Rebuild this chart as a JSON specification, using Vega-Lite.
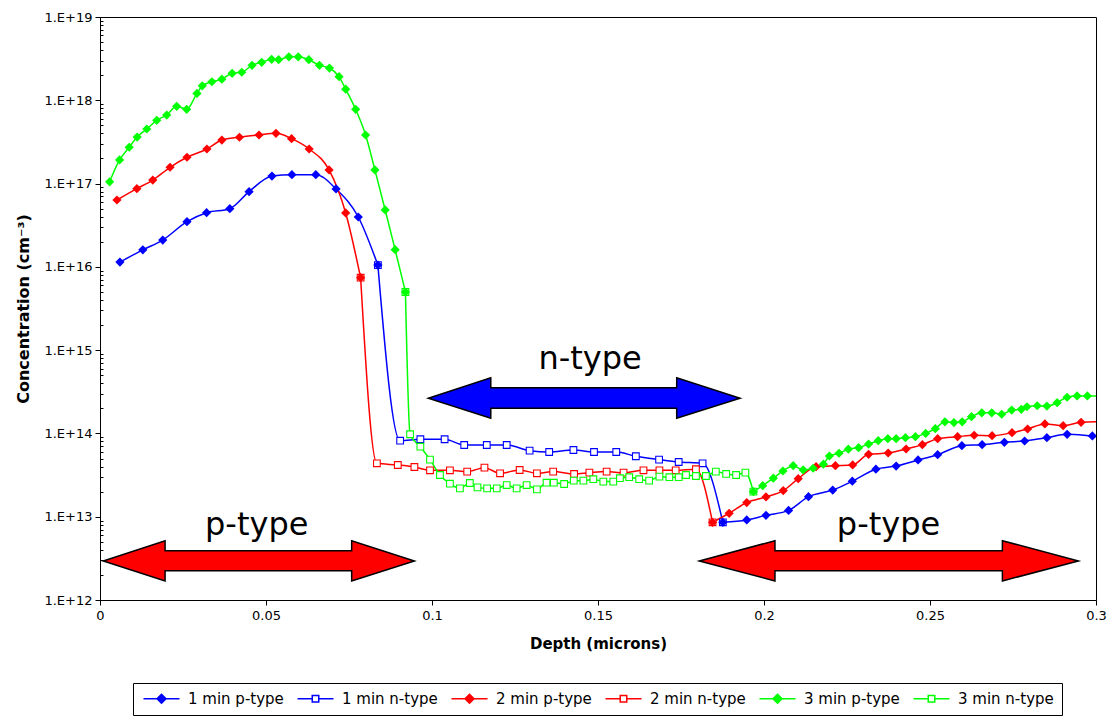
{
  "$schema": "https://vega.github.io/schema/vega-lite/v6.json",
  "autosize": {"type": "none"},
  "padding": {"left": 100, "top": 17, "right": 15, "bottom": 117},
  "width": 996,
  "height": 583,
  "background": "white",
  "config": {
    "view": {"stroke": "black", "strokeWidth": 1},
    "font": "DejaVu Sans",
    "axis": {"domainColor": "black", "tickColor": "black", "labelColor": "black", "titleColor": "black", "grid": false, "labelFont": "DejaVu Sans", "titleFont": "DejaVu Sans"},
    "legend": {"labelFont": "DejaVu Sans", "labelColor": "black"}
  },
  "datasets": {
    "curves": [
      {"series": "1 min p-type", "seg": "a", "x": 0.0060, "y": 1.14e16},
      {"series": "1 min p-type", "seg": "a", "x": 0.0129, "y": 1.6e16},
      {"series": "1 min p-type", "seg": "a", "x": 0.0189, "y": 2.1e16},
      {"series": "1 min p-type", "seg": "a", "x": 0.0262, "y": 3.49e16},
      {"series": "1 min p-type", "seg": "a", "x": 0.0321, "y": 4.47e16},
      {"series": "1 min p-type", "seg": "a", "x": 0.0391, "y": 4.99e16},
      {"series": "1 min p-type", "seg": "a", "x": 0.0449, "y": 8.0e16},
      {"series": "1 min p-type", "seg": "a", "x": 0.0518, "y": 1.23e17},
      {"series": "1 min p-type", "seg": "a", "x": 0.0578, "y": 1.28e17},
      {"series": "1 min p-type", "seg": "a", "x": 0.0650, "y": 1.28e17},
      {"series": "1 min p-type", "seg": "a", "x": 0.0711, "y": 8.61e16},
      {"series": "1 min p-type", "seg": "a", "x": 0.0778, "y": 3.97e16},
      {"series": "1 min p-type", "seg": "a", "x": 0.0837, "y": 1.05e16},
      {"series": "1 min n-type", "seg": "a", "x": 0.0837, "y": 1.05e16},
      {"series": "1 min n-type", "seg": "a", "x": 0.0904, "y": 8.18e13},
      {"series": "1 min n-type", "seg": "a", "x": 0.0965, "y": 8.51e13},
      {"series": "1 min n-type", "seg": "a", "x": 0.1038, "y": 8.51e13},
      {"series": "1 min n-type", "seg": "a", "x": 0.1097, "y": 7.26e13},
      {"series": "1 min n-type", "seg": "a", "x": 0.1165, "y": 7.26e13},
      {"series": "1 min n-type", "seg": "a", "x": 0.1225, "y": 7.26e13},
      {"series": "1 min n-type", "seg": "a", "x": 0.1294, "y": 6.21e13},
      {"series": "1 min n-type", "seg": "a", "x": 0.1353, "y": 5.98e13},
      {"series": "1 min n-type", "seg": "a", "x": 0.1426, "y": 6.32e13},
      {"series": "1 min n-type", "seg": "a", "x": 0.1488, "y": 5.98e13},
      {"series": "1 min n-type", "seg": "a", "x": 0.1555, "y": 5.98e13},
      {"series": "1 min n-type", "seg": "a", "x": 0.1614, "y": 5.32e13},
      {"series": "1 min n-type", "seg": "a", "x": 0.1684, "y": 4.85e13},
      {"series": "1 min n-type", "seg": "a", "x": 0.1743, "y": 4.54e13},
      {"series": "1 min n-type", "seg": "a", "x": 0.1815, "y": 4.38e13},
      {"series": "1 min n-type", "seg": "a", "x": 0.1876, "y": 8.57e12},
      {"series": "1 min p-type", "seg": "b", "x": 0.1876, "y": 8.57e12},
      {"series": "1 min p-type", "seg": "b", "x": 0.1948, "y": 9.14e12},
      {"series": "1 min p-type", "seg": "b", "x": 0.2006, "y": 1.04e13},
      {"series": "1 min p-type", "seg": "b", "x": 0.2074, "y": 1.19e13},
      {"series": "1 min p-type", "seg": "b", "x": 0.2134, "y": 1.74e13},
      {"series": "1 min p-type", "seg": "b", "x": 0.2207, "y": 2.09e13},
      {"series": "1 min p-type", "seg": "b", "x": 0.2266, "y": 2.67e13},
      {"series": "1 min p-type", "seg": "b", "x": 0.2337, "y": 3.72e13},
      {"series": "1 min p-type", "seg": "b", "x": 0.2398, "y": 4.06e13},
      {"series": "1 min p-type", "seg": "b", "x": 0.2464, "y": 4.80e13},
      {"series": "1 min p-type", "seg": "b", "x": 0.2523, "y": 5.56e13},
      {"series": "1 min p-type", "seg": "b", "x": 0.2596, "y": 7.13e13},
      {"series": "1 min p-type", "seg": "b", "x": 0.2657, "y": 7.33e13},
      {"series": "1 min p-type", "seg": "b", "x": 0.2724, "y": 7.83e13},
      {"series": "1 min p-type", "seg": "b", "x": 0.2785, "y": 8.11e13},
      {"series": "1 min p-type", "seg": "b", "x": 0.2852, "y": 8.89e13},
      {"series": "1 min p-type", "seg": "b", "x": 0.2913, "y": 9.77e13},
      {"series": "1 min p-type", "seg": "b", "x": 0.2989, "y": 9.33e13},
      {"series": "1 min p-type", "seg": "b", "x": 0.3012, "y": 9.2e13},
      {"series": "2 min p-type", "seg": "a", "x": 0.0051, "y": 6.35e16},
      {"series": "2 min p-type", "seg": "a", "x": 0.0111, "y": 8.69e16},
      {"series": "2 min p-type", "seg": "a", "x": 0.0159, "y": 1.10e17},
      {"series": "2 min p-type", "seg": "a", "x": 0.0211, "y": 1.57e17},
      {"series": "2 min p-type", "seg": "a", "x": 0.0262, "y": 2.07e17},
      {"series": "2 min p-type", "seg": "a", "x": 0.0322, "y": 2.60e17},
      {"series": "2 min p-type", "seg": "a", "x": 0.0367, "y": 3.33e17},
      {"series": "2 min p-type", "seg": "a", "x": 0.0420, "y": 3.60e17},
      {"series": "2 min p-type", "seg": "a", "x": 0.0479, "y": 3.83e17},
      {"series": "2 min p-type", "seg": "a", "x": 0.0530, "y": 4.01e17},
      {"series": "2 min p-type", "seg": "a", "x": 0.0577, "y": 3.46e17},
      {"series": "2 min p-type", "seg": "a", "x": 0.0630, "y": 2.60e17},
      {"series": "2 min p-type", "seg": "a", "x": 0.0690, "y": 1.46e17},
      {"series": "2 min p-type", "seg": "a", "x": 0.0740, "y": 4.44e16},
      {"series": "2 min p-type", "seg": "a", "x": 0.0785, "y": 7.41e15},
      {"series": "2 min n-type", "seg": "a", "x": 0.0785, "y": 7.41e15},
      {"series": "2 min n-type", "seg": "a", "x": 0.0834, "y": 4.38e13},
      {"series": "2 min n-type", "seg": "a", "x": 0.0897, "y": 4.18e13},
      {"series": "2 min n-type", "seg": "a", "x": 0.0947, "y": 3.95e13},
      {"series": "2 min n-type", "seg": "a", "x": 0.0994, "y": 3.61e13},
      {"series": "2 min n-type", "seg": "a", "x": 0.1054, "y": 3.61e13},
      {"series": "2 min n-type", "seg": "a", "x": 0.1106, "y": 3.48e13},
      {"series": "2 min n-type", "seg": "a", "x": 0.1158, "y": 3.88e13},
      {"series": "2 min n-type", "seg": "a", "x": 0.1205, "y": 3.32e13},
      {"series": "2 min n-type", "seg": "a", "x": 0.1264, "y": 3.64e13},
      {"series": "2 min n-type", "seg": "a", "x": 0.1316, "y": 3.32e13},
      {"series": "2 min n-type", "seg": "a", "x": 0.1365, "y": 3.48e13},
      {"series": "2 min n-type", "seg": "a", "x": 0.1428, "y": 3.26e13},
      {"series": "2 min n-type", "seg": "a", "x": 0.1474, "y": 3.38e13},
      {"series": "2 min n-type", "seg": "a", "x": 0.1526, "y": 3.48e13},
      {"series": "2 min n-type", "seg": "a", "x": 0.1577, "y": 3.38e13},
      {"series": "2 min n-type", "seg": "a", "x": 0.1637, "y": 3.61e13},
      {"series": "2 min n-type", "seg": "a", "x": 0.1685, "y": 3.61e13},
      {"series": "2 min n-type", "seg": "a", "x": 0.1734, "y": 3.61e13},
      {"series": "2 min n-type", "seg": "a", "x": 0.1795, "y": 3.72e13},
      {"series": "2 min n-type", "seg": "a", "x": 0.1845, "y": 8.57e12},
      {"series": "2 min p-type", "seg": "b", "x": 0.1845, "y": 8.57e12},
      {"series": "2 min p-type", "seg": "b", "x": 0.1895, "y": 1.10e13},
      {"series": "2 min p-type", "seg": "b", "x": 0.1948, "y": 1.48e13},
      {"series": "2 min p-type", "seg": "b", "x": 0.2006, "y": 1.73e13},
      {"series": "2 min p-type", "seg": "b", "x": 0.2058, "y": 2.06e13},
      {"series": "2 min p-type", "seg": "b", "x": 0.2103, "y": 2.86e13},
      {"series": "2 min p-type", "seg": "b", "x": 0.2157, "y": 3.99e13},
      {"series": "2 min p-type", "seg": "b", "x": 0.2215, "y": 4.10e13},
      {"series": "2 min p-type", "seg": "b", "x": 0.2267, "y": 4.18e13},
      {"series": "2 min p-type", "seg": "b", "x": 0.2315, "y": 5.62e13},
      {"series": "2 min p-type", "seg": "b", "x": 0.2374, "y": 5.82e13},
      {"series": "2 min p-type", "seg": "b", "x": 0.2428, "y": 6.50e13},
      {"series": "2 min p-type", "seg": "b", "x": 0.2477, "y": 7.33e13},
      {"series": "2 min p-type", "seg": "b", "x": 0.2523, "y": 8.65e13},
      {"series": "2 min p-type", "seg": "b", "x": 0.2583, "y": 9.14e13},
      {"series": "2 min p-type", "seg": "b", "x": 0.2633, "y": 9.51e13},
      {"series": "2 min p-type", "seg": "b", "x": 0.2687, "y": 9.40e13},
      {"series": "2 min p-type", "seg": "b", "x": 0.2747, "y": 1.02e14},
      {"series": "2 min p-type", "seg": "b", "x": 0.2794, "y": 1.13e14},
      {"series": "2 min p-type", "seg": "b", "x": 0.2846, "y": 1.30e14},
      {"series": "2 min p-type", "seg": "b", "x": 0.2901, "y": 1.24e14},
      {"series": "2 min p-type", "seg": "b", "x": 0.2955, "y": 1.36e14},
      {"series": "2 min p-type", "seg": "b", "x": 0.3012, "y": 1.38e14},
      {"series": "3 min p-type", "seg": "a", "x": 0.0029, "y": 1.05e17},
      {"series": "3 min p-type", "seg": "a", "x": 0.0059, "y": 1.92e17},
      {"series": "3 min p-type", "seg": "a", "x": 0.0088, "y": 2.73e17},
      {"series": "3 min p-type", "seg": "a", "x": 0.0112, "y": 3.62e17},
      {"series": "3 min p-type", "seg": "a", "x": 0.0141, "y": 4.52e17},
      {"series": "3 min p-type", "seg": "a", "x": 0.0171, "y": 5.75e17},
      {"series": "3 min p-type", "seg": "a", "x": 0.0201, "y": 6.65e17},
      {"series": "3 min p-type", "seg": "a", "x": 0.0231, "y": 8.47e17},
      {"series": "3 min p-type", "seg": "a", "x": 0.0261, "y": 7.80e17},
      {"series": "3 min p-type", "seg": "a", "x": 0.0292, "y": 1.21e18},
      {"series": "3 min p-type", "seg": "a", "x": 0.0308, "y": 1.49e18},
      {"series": "3 min p-type", "seg": "a", "x": 0.0337, "y": 1.67e18},
      {"series": "3 min p-type", "seg": "a", "x": 0.0367, "y": 1.79e18},
      {"series": "3 min p-type", "seg": "a", "x": 0.0398, "y": 2.11e18},
      {"series": "3 min p-type", "seg": "a", "x": 0.0427, "y": 2.17e18},
      {"series": "3 min p-type", "seg": "a", "x": 0.0458, "y": 2.63e18},
      {"series": "3 min p-type", "seg": "a", "x": 0.0487, "y": 2.86e18},
      {"series": "3 min p-type", "seg": "a", "x": 0.0517, "y": 3.10e18},
      {"series": "3 min p-type", "seg": "a", "x": 0.0538, "y": 3.07e18},
      {"series": "3 min p-type", "seg": "a", "x": 0.0569, "y": 3.33e18},
      {"series": "3 min p-type", "seg": "a", "x": 0.0597, "y": 3.33e18},
      {"series": "3 min p-type", "seg": "a", "x": 0.0629, "y": 3.07e18},
      {"series": "3 min p-type", "seg": "a", "x": 0.0661, "y": 2.63e18},
      {"series": "3 min p-type", "seg": "a", "x": 0.0691, "y": 2.44e18},
      {"series": "3 min p-type", "seg": "a", "x": 0.0720, "y": 1.92e18},
      {"series": "3 min p-type", "seg": "a", "x": 0.0740, "y": 1.36e18},
      {"series": "3 min p-type", "seg": "a", "x": 0.0770, "y": 7.80e17},
      {"series": "3 min p-type", "seg": "a", "x": 0.0800, "y": 3.83e17},
      {"series": "3 min p-type", "seg": "a", "x": 0.0828, "y": 1.46e17},
      {"series": "3 min p-type", "seg": "a", "x": 0.0859, "y": 4.82e16},
      {"series": "3 min p-type", "seg": "a", "x": 0.0889, "y": 1.61e16},
      {"series": "3 min p-type", "seg": "a", "x": 0.0920, "y": 4.99e15},
      {"series": "3 min n-type", "seg": "a", "x": 0.0920, "y": 4.99e15},
      {"series": "3 min n-type", "seg": "a", "x": 0.0934, "y": 9.77e13},
      {"series": "3 min n-type", "seg": "a", "x": 0.0965, "y": 6.93e13},
      {"series": "3 min n-type", "seg": "a", "x": 0.0994, "y": 4.84e13},
      {"series": "3 min n-type", "seg": "a", "x": 0.1024, "y": 3.17e13},
      {"series": "3 min n-type", "seg": "a", "x": 0.1054, "y": 2.49e13},
      {"series": "3 min n-type", "seg": "a", "x": 0.1084, "y": 2.19e13},
      {"series": "3 min n-type", "seg": "a", "x": 0.1114, "y": 2.54e13},
      {"series": "3 min n-type", "seg": "a", "x": 0.1137, "y": 2.25e13},
      {"series": "3 min n-type", "seg": "a", "x": 0.1166, "y": 2.19e13},
      {"series": "3 min n-type", "seg": "a", "x": 0.1195, "y": 2.19e13},
      {"series": "3 min n-type", "seg": "a", "x": 0.1225, "y": 2.40e13},
      {"series": "3 min n-type", "seg": "a", "x": 0.1255, "y": 2.19e13},
      {"series": "3 min n-type", "seg": "a", "x": 0.1285, "y": 2.40e13},
      {"series": "3 min n-type", "seg": "a", "x": 0.1316, "y": 2.13e13},
      {"series": "3 min n-type", "seg": "a", "x": 0.1345, "y": 2.56e13},
      {"series": "3 min n-type", "seg": "a", "x": 0.1367, "y": 2.56e13},
      {"series": "3 min n-type", "seg": "a", "x": 0.1398, "y": 2.47e13},
      {"series": "3 min n-type", "seg": "a", "x": 0.1427, "y": 2.71e13},
      {"series": "3 min n-type", "seg": "a", "x": 0.1456, "y": 2.71e13},
      {"series": "3 min n-type", "seg": "a", "x": 0.1486, "y": 2.82e13},
      {"series": "3 min n-type", "seg": "a", "x": 0.1516, "y": 2.64e13},
      {"series": "3 min n-type", "seg": "a", "x": 0.1546, "y": 2.64e13},
      {"series": "3 min n-type", "seg": "a", "x": 0.1566, "y": 2.90e13},
      {"series": "3 min n-type", "seg": "a", "x": 0.1594, "y": 2.98e13},
      {"series": "3 min n-type", "seg": "a", "x": 0.1624, "y": 2.82e13},
      {"series": "3 min n-type", "seg": "a", "x": 0.1654, "y": 2.71e13},
      {"series": "3 min n-type", "seg": "a", "x": 0.1685, "y": 3.03e13},
      {"series": "3 min n-type", "seg": "a", "x": 0.1715, "y": 2.98e13},
      {"series": "3 min n-type", "seg": "a", "x": 0.1743, "y": 2.98e13},
      {"series": "3 min n-type", "seg": "a", "x": 0.1765, "y": 3.17e13},
      {"series": "3 min n-type", "seg": "a", "x": 0.1795, "y": 3.08e13},
      {"series": "3 min n-type", "seg": "a", "x": 0.1825, "y": 3.08e13},
      {"series": "3 min n-type", "seg": "a", "x": 0.1855, "y": 3.48e13},
      {"series": "3 min n-type", "seg": "a", "x": 0.1886, "y": 3.26e13},
      {"series": "3 min n-type", "seg": "a", "x": 0.1916, "y": 3.17e13},
      {"series": "3 min n-type", "seg": "a", "x": 0.1944, "y": 3.38e13},
      {"series": "3 min n-type", "seg": "a", "x": 0.1968, "y": 2.00e13},
      {"series": "3 min p-type", "seg": "b", "x": 0.1968, "y": 2.00e13},
      {"series": "3 min p-type", "seg": "b", "x": 0.1996, "y": 2.36e13},
      {"series": "3 min p-type", "seg": "b", "x": 0.2028, "y": 2.90e13},
      {"series": "3 min p-type", "seg": "b", "x": 0.2057, "y": 3.54e13},
      {"series": "3 min p-type", "seg": "b", "x": 0.2088, "y": 4.10e13},
      {"series": "3 min p-type", "seg": "b", "x": 0.2118, "y": 3.64e13},
      {"series": "3 min p-type", "seg": "b", "x": 0.2148, "y": 3.82e13},
      {"series": "3 min p-type", "seg": "b", "x": 0.2179, "y": 4.27e13},
      {"series": "3 min p-type", "seg": "b", "x": 0.2197, "y": 5.36e13},
      {"series": "3 min p-type", "seg": "b", "x": 0.2226, "y": 5.78e13},
      {"series": "3 min p-type", "seg": "b", "x": 0.2254, "y": 6.46e13},
      {"series": "3 min p-type", "seg": "b", "x": 0.2285, "y": 6.75e13},
      {"series": "3 min p-type", "seg": "b", "x": 0.2315, "y": 7.46e13},
      {"series": "3 min p-type", "seg": "b", "x": 0.2344, "y": 8.18e13},
      {"series": "3 min p-type", "seg": "b", "x": 0.2373, "y": 8.65e13},
      {"series": "3 min p-type", "seg": "b", "x": 0.2398, "y": 8.65e13},
      {"series": "3 min p-type", "seg": "b", "x": 0.2426, "y": 8.89e13},
      {"series": "3 min p-type", "seg": "b", "x": 0.2456, "y": 9.14e13},
      {"series": "3 min p-type", "seg": "b", "x": 0.2487, "y": 1.00e14},
      {"series": "3 min p-type", "seg": "b", "x": 0.2516, "y": 1.14e14},
      {"series": "3 min p-type", "seg": "b", "x": 0.2545, "y": 1.38e14},
      {"series": "3 min p-type", "seg": "b", "x": 0.2572, "y": 1.35e14},
      {"series": "3 min p-type", "seg": "b", "x": 0.2597, "y": 1.38e14},
      {"series": "3 min p-type", "seg": "b", "x": 0.2625, "y": 1.59e14},
      {"series": "3 min p-type", "seg": "b", "x": 0.2656, "y": 1.77e14},
      {"series": "3 min p-type", "seg": "b", "x": 0.2686, "y": 1.77e14},
      {"series": "3 min p-type", "seg": "b", "x": 0.2716, "y": 1.70e14},
      {"series": "3 min p-type", "seg": "b", "x": 0.2746, "y": 1.91e14},
      {"series": "3 min p-type", "seg": "b", "x": 0.2775, "y": 1.95e14},
      {"series": "3 min p-type", "seg": "b", "x": 0.2792, "y": 2.09e14},
      {"series": "3 min p-type", "seg": "b", "x": 0.2823, "y": 2.15e14},
      {"series": "3 min p-type", "seg": "b", "x": 0.2852, "y": 2.13e14},
      {"series": "3 min p-type", "seg": "b", "x": 0.2883, "y": 2.34e14},
      {"series": "3 min p-type", "seg": "b", "x": 0.2913, "y": 2.72e14},
      {"series": "3 min p-type", "seg": "b", "x": 0.2943, "y": 2.82e14},
      {"series": "3 min p-type", "seg": "b", "x": 0.2974, "y": 2.82e14},
      {"series": "3 min p-type", "seg": "b", "x": 0.3012, "y": 2.82e14}
    ],
    "arrows": [
      {"arrow": "pL", "type": "p-type", "x": 0.0010, "top": 2.944e12, "bot": 2.944e12},
      {"arrow": "pL", "type": "p-type", "x": 0.0196, "top": 5.152e12, "bot": 1.694e12},
      {"arrow": "pL", "type": "p-type", "x": 0.01961, "top": 3.908e12, "bot": 2.249e12},
      {"arrow": "pL", "type": "p-type", "x": 0.0758, "top": 3.908e12, "bot": 2.249e12},
      {"arrow": "pL", "type": "p-type", "x": 0.07581, "top": 5.152e12, "bot": 1.694e12},
      {"arrow": "pL", "type": "p-type", "x": 0.0947, "top": 2.944e12, "bot": 2.944e12},
      {"arrow": "pR", "type": "p-type", "x": 0.1805, "top": 2.944e12, "bot": 2.944e12},
      {"arrow": "pR", "type": "p-type", "x": 0.2033, "top": 5.152e12, "bot": 1.694e12},
      {"arrow": "pR", "type": "p-type", "x": 0.20331, "top": 3.908e12, "bot": 2.249e12},
      {"arrow": "pR", "type": "p-type", "x": 0.2718, "top": 3.908e12, "bot": 2.249e12},
      {"arrow": "pR", "type": "p-type", "x": 0.27181, "top": 5.152e12, "bot": 1.694e12},
      {"arrow": "pR", "type": "p-type", "x": 0.2947, "top": 2.944e12, "bot": 2.944e12},
      {"arrow": "n", "type": "n-type", "x": 0.0989, "top": 2.642e14, "bot": 2.642e14},
      {"arrow": "n", "type": "n-type", "x": 0.1177, "top": 4.667e14, "bot": 1.521e14},
      {"arrow": "n", "type": "n-type", "x": 0.11771, "top": 3.540e14, "bot": 2.004e14},
      {"arrow": "n", "type": "n-type", "x": 0.1737, "top": 3.540e14, "bot": 2.004e14},
      {"arrow": "n", "type": "n-type", "x": 0.17371, "top": 4.667e14, "bot": 1.521e14},
      {"arrow": "n", "type": "n-type", "x": 0.1928, "top": 2.642e14, "bot": 2.642e14}
    ],
    "labels": [
      {"label": "p-type", "x": 0.0472, "y": 6.04e12},
      {"label": "p-type", "x": 0.2375, "y": 6.04e12},
      {"label": "n-type", "x": 0.1476, "y": 5.89e14}
    ]
  },
  "layer": [
    {
      "data": {"name": "curves"},
      "mark": {"type": "line", "interpolate": "monotone", "strokeWidth": 1.5, "clip": true},
      "encoding": {
        "x": {
          "field": "x", "type": "quantitative",
          "scale": {"domain": [0, 0.3], "nice": false, "zero": false},
          "axis": {
            "title": "Depth (microns)",
            "values": [0, 0.05, 0.1, 0.15, 0.2, 0.25, 0.3],
            "format": "~g",
            "labelFlush": false,
            "labelFontSize": 13,
            "labelPadding": 4,
            "tickSize": 5,
            "titleFontSize": 15,
            "titleFontWeight": "bold",
            "titlePadding": 14
          }
        },
        "y": {
          "field": "y", "type": "quantitative",
          "scale": {"type": "log", "domain": [1e12, 1e19], "nice": false},
          "axis": {
            "title": "Concentration (cm⁻³)",
            "values": [1e12, 2e12, 3e12, 4e12, 5e12, 6e12, 7e12, 8e12, 9e12,
                       1e13, 2e13, 3e13, 4e13, 5e13, 6e13, 7e13, 8e13, 9e13,
                       1e14, 2e14, 3e14, 4e14, 5e14, 6e14, 7e14, 8e14, 9e14,
                       1e15, 2e15, 3e15, 4e15, 5e15, 6e15, 7e15, 8e15, 9e15,
                       1e16, 2e16, 3e16, 4e16, 5e16, 6e16, 7e16, 8e16, 9e16,
                       1e17, 2e17, 3e17, 4e17, 5e17, 6e17, 7e17, 8e17, 9e17,
                       1e18, 2e18, 3e18, 4e18, 5e18, 6e18, 7e18, 8e18, 9e18, 1e19],
            "labelExpr": "abs(log(datum.value)/LN10 - round(log(datum.value)/LN10)) < 0.01 ? '1.E+' + round(log(datum.value)/LN10) : ''",
            "labelOverlap": false,
            "labelFlush": false,
            "labelFontSize": 13,
            "labelPadding": 3,
            "tickSize": {"condition": {"test": "abs(log(datum.value)/LN10 - round(log(datum.value)/LN10)) < 0.01", "value": 5}, "value": -3},
            "titleFontSize": 16,
            "titleFontWeight": "bold",
            "titlePadding": 12
          }
        },
        "stroke": {
          "field": "series", "type": "nominal",
          "scale": {
            "domain": ["1 min p-type", "1 min n-type", "2 min p-type", "2 min n-type", "3 min p-type", "3 min n-type"],
            "range": ["#0000FF", "#0000FF", "#FF0000", "#FF0000", "#00FF00", "#00FF00"]
          },
          "legend": {
            "title": null,
            "orient": "none",
            "legendX": 33,
            "legendY": 666,
            "direction": "horizontal",
            "columns": 6,
            "strokeColor": "black",
            "fillColor": "white",
            "padding": 8,
            "labelFontSize": 15,
            "symbolSize": 100,
            "symbolOffset": 13,
            "labelOffset": 19,
            "columnPadding": 10,
            "symbolStrokeWidth": 1.5
          }
        },
        "detail": {"field": "seg"}
      }
    },
    {
      "data": {"name": "curves"},
      "transform": [{"filter": "false"}],
      "mark": {"type": "point", "size": 100, "filled": true, "opacity": 1},
      "encoding": {
        "x": {"field": "x", "type": "quantitative"},
        "y": {"field": "y", "type": "quantitative"},
        "stroke": {"field": "series", "type": "nominal"},
        "fill": {
          "field": "series", "type": "nominal",
          "scale": {
            "domain": ["1 min p-type", "1 min n-type", "2 min p-type", "2 min n-type", "3 min p-type", "3 min n-type"],
            "range": ["#0000FF", "white", "#FF0000", "white", "#00FF00", "white"]
          }
        },
        "shape": {
          "field": "series", "type": "nominal",
          "scale": {
            "domain": ["1 min p-type", "1 min n-type", "2 min p-type", "2 min n-type", "3 min p-type", "3 min n-type"],
            "range": [
              "M-3.6,0H3.6M0,-0.9L0.9,0L0,0.9L-0.9,0Z",
              "M-3.6,0H-0.65M0.65,0H3.6M-0.65,-0.65H0.65V0.65H-0.65Z",
              "M-3.6,0H3.6M0,-0.9L0.9,0L0,0.9L-0.9,0Z",
              "M-3.6,0H-0.65M0.65,0H3.6M-0.65,-0.65H0.65V0.65H-0.65Z",
              "M-3.6,0H3.6M0,-0.9L0.9,0L0,0.9L-0.9,0Z",
              "M-3.6,0H-0.65M0.65,0H3.6M-0.65,-0.65H0.65V0.65H-0.65Z"
            ]
          }
        }
      }
    },
    {
      "data": {"name": "curves"},
      "transform": [{"filter": "indexof(datum.series,'n-type')>=0"}],
      "mark": {"type": "point", "shape": "square", "size": 45, "filled": true, "strokeWidth": 1.1, "opacity": 1, "clip": true},
      "encoding": {
        "x": {"field": "x", "type": "quantitative"},
        "y": {"field": "y", "type": "quantitative"},
        "stroke": {"field": "series", "type": "nominal"},
        "fill": {"field": "series", "type": "nominal"}
      }
    },
    {
      "data": {"name": "curves"},
      "transform": [{"filter": "indexof(datum.series,'p-type')>=0"}],
      "mark": {"type": "point", "shape": "diamond", "size": 85, "filled": true, "strokeWidth": 0, "opacity": 1, "clip": true},
      "encoding": {
        "x": {"field": "x", "type": "quantitative"},
        "y": {"field": "y", "type": "quantitative"},
        "stroke": {"field": "series", "type": "nominal"},
        "fill": {"field": "series", "type": "nominal"}
      }
    },
    {
      "data": {"name": "arrows"},
      "mark": {"type": "area", "stroke": "black", "strokeWidth": 1.5, "opacity": 1, "clip": true},
      "encoding": {
        "x": {"field": "x", "type": "quantitative"},
        "y": {"field": "top", "type": "quantitative"},
        "y2": {"field": "bot"},
        "detail": {"field": "arrow"},
        "color": {"field": "type", "type": "nominal", "scale": {"domain": ["p-type", "n-type"], "range": ["#FF0000", "#0000FF"]}, "legend": null}
      }
    },
    {
      "data": {"name": "labels"},
      "mark": {"type": "text", "font": "DejaVu Sans", "fontSize": 32, "align": "center", "baseline": "alphabetic", "color": "black"},
      "encoding": {
        "x": {"field": "x", "type": "quantitative"},
        "y": {"field": "y", "type": "quantitative"},
        "text": {"field": "label"}
      }
    }
  ]
}
